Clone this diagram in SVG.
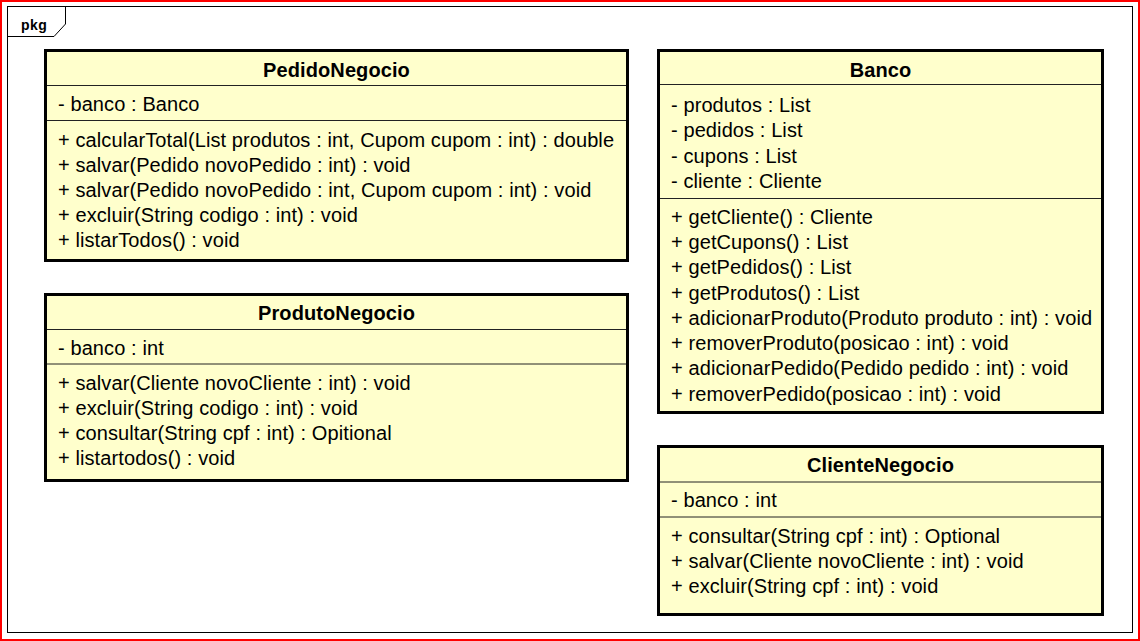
<svg xmlns="http://www.w3.org/2000/svg" width="1140" height="641" viewBox="0 0 1140 641">
<style>
.box{fill:#FFFFCC;stroke:#000;stroke-width:3}
.sep{stroke:#222;stroke-width:1;fill:none}
.t{font-family:"Liberation Sans",Arial,sans-serif;font-size:20px;fill:#000;letter-spacing:0.1px}
.title{font-weight:bold;text-anchor:middle}
.frame{fill:none;stroke:#000;stroke-width:1}
</style>
<rect x="0" y="0" width="1140" height="641" fill="#fff"/>
<rect x="1" y="1" width="1138" height="639" fill="none" stroke="#FF0000" stroke-width="2"/>
<g id="pkg">
<rect class="frame" x="7.5" y="6.5" width="1125" height="626"/>
<polyline class="frame" points="65.5,6.5 65.5,24 54,36.5 7.5,36.5"/>
<text x="21" y="30" font-family="Liberation Sans,Arial,sans-serif" font-size="14" font-weight="bold" letter-spacing="0.5">pkg</text>
</g>
<g id="connectors"/>
<g id="PedidoNegocio">
<rect class="box" x="45.5" y="50.5" width="582" height="210"/>
<line class="sep" x1="47" y1="85.5" x2="626" y2="85.5"/>
<line class="sep" x1="47" y1="120.5" x2="626" y2="120.5"/>
<text class="t title" x="336.5" y="77">PedidoNegocio</text>
<text class="t" x="58" y="111">- banco : Banco</text>
<text class="t" x="58" y="147">+ calcularTotal(List produtos : int, Cupom cupom : int) : double</text>
<text class="t" x="58" y="172">+ salvar(Pedido novoPedido : int) : void</text>
<text class="t" x="58" y="197">+ salvar(Pedido novoPedido : int, Cupom cupom : int) : void</text>
<text class="t" x="58" y="222">+ excluir(String codigo : int) : void</text>
<text class="t" x="58" y="247">+ listarTodos() : void</text>
</g>
<g id="ProdutoNegocio">
<rect class="box" x="45.5" y="294.5" width="582" height="186"/>
<line class="sep" x1="47" y1="329.5" x2="626" y2="329.5"/>
<line class="sep" x1="47" y1="364" x2="626" y2="364"/>
<text class="t title" x="336.5" y="320">ProdutoNegocio</text>
<text class="t" x="58" y="355">- banco : int</text>
<text class="t" x="58" y="390">+ salvar(Cliente novoCliente : int) : void</text>
<text class="t" x="58" y="415">+ excluir(String codigo : int) : void</text>
<text class="t" x="58" y="440">+ consultar(String cpf : int) : Opitional</text>
<text class="t" x="58" y="465">+ listartodos() : void</text>
</g>
<g id="Banco">
<rect class="box" x="658.5" y="50.5" width="444" height="362"/>
<line class="sep" x1="660" y1="84.5" x2="1101" y2="84.5"/>
<line class="sep" x1="660" y1="198.5" x2="1101" y2="198.5"/>
<text class="t title" x="880.5" y="77">Banco</text>
<text class="t" x="671" y="112">- produtos : List</text>
<text class="t" x="671" y="137">- pedidos : List</text>
<text class="t" x="671" y="163">- cupons : List</text>
<text class="t" x="671" y="188">- cliente : Cliente</text>
<text class="t" x="671" y="224">+ getCliente() : Cliente</text>
<text class="t" x="671" y="249">+ getCupons() : List</text>
<text class="t" x="671" y="274">+ getPedidos() : List</text>
<text class="t" x="671" y="300">+ getProdutos() : List</text>
<text class="t" x="671" y="325">+ adicionarProduto(Produto produto : int) : void</text>
<text class="t" x="671" y="350">+ removerProduto(posicao : int) : void</text>
<text class="t" x="671" y="375">+ adicionarPedido(Pedido pedido : int) : void</text>
<text class="t" x="671" y="401">+ removerPedido(posicao : int) : void</text>
</g>
<g id="ClienteNegocio">
<rect class="box" x="658.5" y="446.5" width="444" height="168"/>
<line class="sep" x1="660" y1="482" x2="1101" y2="482"/>
<line class="sep" x1="660" y1="517" x2="1101" y2="517"/>
<text class="t title" x="880.5" y="472">ClienteNegocio</text>
<text class="t" x="671" y="507">- banco : int</text>
<text class="t" x="671" y="543">+ consultar(String cpf : int) : Optional</text>
<text class="t" x="671" y="568">+ salvar(Cliente novoCliente : int) : void</text>
<text class="t" x="671" y="593">+ excluir(String cpf : int) : void</text>
</g>
</svg>
